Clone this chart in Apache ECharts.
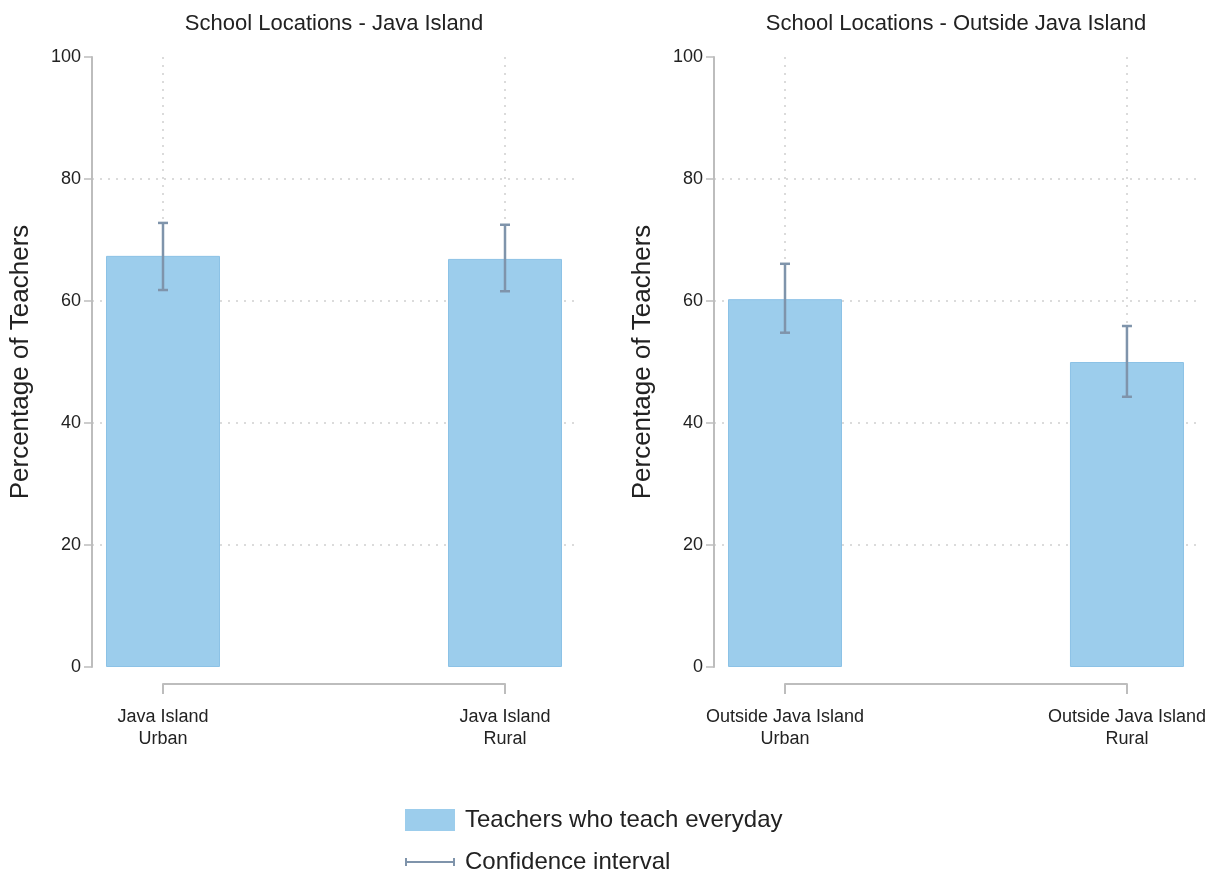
<!DOCTYPE html>
<html>
<head>
<meta charset="utf-8">
<script src="https://cdn.jsdelivr.net/npm/echarts@6/dist/echarts.min.js"></script>
<style>
  body { margin: 0; background: #fff; }
  #chart { width: 1209px; height: 874px; }
</style>
</head>
<body>
<div id="chart"></div>
<script>
// data
const titles = ['School Locations - Java Island', 'School Locations - Outside Java Island'];
const javaCats = ['Java Island\nUrban', 'Java Island\nRural'];
const outsideCats = ['Outside Java Island\nUrban', 'Outside Java Island\nRural'];
const javaMean = [67.4, 66.9];
const javaLow = [61.8, 61.6];
const javaHigh = [72.8, 72.5];
const outsideMean = [60.3, 50.0];
const outsideLow = [54.8, 44.3];
const outsideHigh = [66.1, 55.9];
const yMin = 0, yMax = 100, yStep = 20;

const barName = 'Teachers who teach everyday';
const ciName = 'Confidence interval';
const barColor = '#9ccdec';
const ciColor = '#7f94ab';
const fontFamily = 'Liberation Sans, Arial, sans-serif';

const chart = echarts.init(document.getElementById('chart'));

// panel layout: outer grid (y axis + horizontal grid lines), inner grid (bars + x axis)
const panels = [
  { outerLeft: 92, innerLeft: 163, cats: javaCats, mean: javaMean, low: javaLow, high: javaHigh },
  { outerLeft: 714, innerLeft: 785, cats: outsideCats, mean: outsideMean, low: outsideLow, high: outsideHigh }
];

const grid = [], xAxis = [], yAxis = [], series = [], title = [];

panels.forEach(function (p, k) {
  const outer = k * 2, inner = k * 2 + 1;
  grid.push({ left: p.outerLeft, top: 57, width: 483, height: 610 });
  grid.push({ left: p.innerLeft, top: 57, width: 342, height: 610 });

  title.push({
    text: titles[k],
    left: p.outerLeft + 237,
    top: 8,
    textAlign: 'center',
    textStyle: { fontFamily: fontFamily, fontSize: 22, fontWeight: 'normal', color: '#222' }
  });

  xAxis.push({ gridIndex: outer, type: 'value', min: 0, max: 1, show: false });
  xAxis.push({
    gridIndex: inner,
    type: 'category',
    boundaryGap: false,
    data: p.cats,
    offset: 17,
    axisLine: { onZero: false, lineStyle: { color: '#bdbdbd', width: 2 } },
    axisTick: { length: 10, lineStyle: { color: '#bdbdbd', width: 2 } },
    axisLabel: { margin: 22, fontFamily: fontFamily, fontSize: 18, color: '#222', lineHeight: 22 },
    splitLine: { show: true, lineStyle: { color: '#d0d0d0', type: [2, 6], width: 1.5 } }
  });

  yAxis.push({
    gridIndex: outer,
    type: 'value',
    min: yMin,
    max: yMax,
    interval: yStep,
    name: 'Percentage of Teachers',
    nameLocation: 'middle',
    nameGap: 58,
    nameTextStyle: { fontFamily: fontFamily, fontSize: 26, color: '#222' },
    axisLine: { show: true, lineStyle: { color: '#bdbdbd', width: 2 } },
    axisTick: { show: true, length: 8, lineStyle: { color: '#bdbdbd', width: 1.5 } },
    axisLabel: { margin: 11, fontFamily: fontFamily, fontSize: 18, color: '#222' },
    splitLine: {
      show: true, showMinLine: false, showMaxLine: false,
      lineStyle: { color: '#d0d0d0', type: [2, 6], width: 1.5 }
    }
  });
  yAxis.push({ gridIndex: inner, type: 'value', min: yMin, max: yMax, show: false });

  series.push({
    name: barName,
    type: 'bar',
    xAxisIndex: inner,
    yAxisIndex: inner,
    barWidth: 114,
    clip: false,
    itemStyle: { color: barColor, borderColor: '#8cc2e6', borderWidth: 1 },
    data: p.mean
  });

  series.push({
    name: ciName,
    type: 'custom',
    xAxisIndex: inner,
    yAxisIndex: inner,
    clip: false,
    z: 5,
    itemStyle: { color: ciColor },
    encode: { x: 0, y: [1, 2] },
    data: p.cats.map(function (c, i) { return [i, p.low[i], p.high[i]]; }),
    renderItem: function (params, api) {
      const lo = api.coord([api.value(0), api.value(1)]);
      const hi = api.coord([api.value(0), api.value(2)]);
      const half = 5;
      const style = { stroke: ciColor, lineWidth: 2.5, fill: null };
      return {
        type: 'group',
        children: [
          { type: 'line', shape: { x1: lo[0], y1: lo[1], x2: hi[0], y2: hi[1] }, style: style },
          { type: 'line', shape: { x1: lo[0] - half, y1: lo[1], x2: lo[0] + half, y2: lo[1] }, style: style },
          { type: 'line', shape: { x1: hi[0] - half, y1: hi[1], x2: hi[0] + half, y2: hi[1] }, style: style }
        ]
      };
    }
  });
});

chart.setOption({
  backgroundColor: '#fff',
  animation: false,
  title: title,
  grid: grid,
  xAxis: xAxis,
  yAxis: yAxis,
  legend: {
    orient: 'vertical',
    left: 405,
    top: 808,
    padding: 0,
    height: 66,
    itemWidth: 50,
    itemHeight: 22,
    itemGap: 18,
    textStyle: { fontFamily: fontFamily, fontSize: 24, color: '#222', padding: [0, 0, 0, 5] },
    data: [
      { name: barName, icon: 'rect', itemStyle: { color: barColor, borderWidth: 0 } },
      { name: ciName, icon: 'path://M0,0h2v8h-2z M2,3h46v2h-46z M48,0h2v8h-2z', itemStyle: { color: ciColor } }
    ]
  },
  series: series
});
</script>
</body>
</html>
